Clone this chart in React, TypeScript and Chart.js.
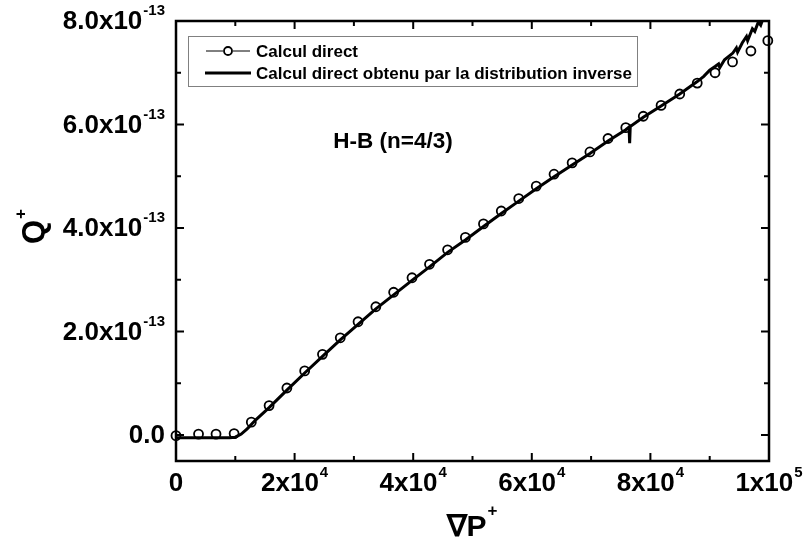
import React, { useEffect, useRef } from 'react';
import { Chart, registerables } from 'chart.js';

Chart.register(...registerables);

// ---- data (Q+ values in units of 1e-13) ----
const circleX = [0, 3800, 6750, 9800, 12700, 15700, 18700, 21700, 24700, 27700, 30700, 33700, 36700, 39800, 42750, 45800, 48800, 51850, 54850, 57800, 60750, 63750, 66800, 69800, 72850, 75850, 78800, 81800, 84950, 87900, 90900, 93850, 96950, 99800];
const circleY = [-0.01, 0.02, 0.02, 0.03, 0.25, 0.57, 0.91, 1.24, 1.56, 1.88, 2.19, 2.48, 2.76, 3.04, 3.30, 3.58, 3.82, 4.08, 4.33, 4.57, 4.81, 5.04, 5.26, 5.47, 5.73, 5.94, 6.16, 6.37, 6.59, 6.80, 7.00, 7.21, 7.42, 7.62];

const lineX = [0, 3000, 6000, 9000, 10000, 11000, 12000, 13500, 15700, 18700, 21700, 24700, 27700, 30700, 33700, 36700, 39800, 42750, 45800, 48800, 51850, 54850, 57800, 60750, 63750, 66800, 69800, 72850, 75850, 76400, 76500, 76600, 78800, 81800, 84950, 87900, 89000, 90000, 90900, 91500, 91700, 92500, 93900, 94500, 94700, 95500, 96200, 96400, 97200, 97600, 98200, 98600, 99000, 99500];
const lineY = [-0.05, -0.05, -0.05, -0.05, -0.04, 0.02, 0.12, 0.30, 0.53, 0.87, 1.20, 1.52, 1.84, 2.14, 2.44, 2.71, 2.99, 3.25, 3.53, 3.77, 4.03, 4.28, 4.52, 4.76, 4.99, 5.22, 5.44, 5.68, 5.90, 5.95, 5.64, 5.96, 6.14, 6.36, 6.59, 6.83, 6.93, 7.05, 7.12, 7.17, 7.10, 7.25, 7.38, 7.48, 7.40, 7.58, 7.70, 7.62, 7.85, 7.80, 7.98, 7.92, 8.05, 8.10];

const seriesLabels = ['Calcul direct', 'Calcul direct obtenu par la distribution inverse'];
const annotationText = 'H-B (n=4/3)';

const xMajorTicks = [0, 20000, 40000, 60000, 80000, 100000];
const xMinorTicks = [10000, 30000, 50000, 70000, 90000];
const xTickMain = ['0', '2x10', '4x10', '6x10', '8x10', '1x10'];
const xTickSup = ['', '4', '4', '4', '4', '5'];

const yMajorTicks = [0, 2, 4, 6, 8];
const yMinorTicks = [1, 3, 5, 7];
const yTickMain = ['0.0', '2.0x10', '4.0x10', '6.0x10', '8.0x10'];
const yTickSup = ['', '-13', '-13', '-13', '-13'];

const xTitleMain = '\u2207P';
const xTitleSup = '+';
const yTitleMain = 'Q';
const yTitleSup = '+';

const FONT = '"Liberation Sans", Arial, Helvetica, sans-serif';

function drawSup(ctx: CanvasRenderingContext2D, main: string, sup: string, x: number, baseline: number, align: 'left' | 'right' | 'center', mainFont: string, supFont: string, rise: number) {
  ctx.font = mainFont;
  const wm = ctx.measureText(main).width;
  ctx.font = supFont;
  const ws = sup ? ctx.measureText(sup).width + 1 : 0;
  const total = wm + ws;
  let left = x;
  if (align === 'right') left = x - total;
  else if (align === 'center') left = x - total / 2;
  ctx.textAlign = 'left';
  ctx.textBaseline = 'alphabetic';
  ctx.font = mainFont;
  ctx.fillText(main, left, baseline);
  if (sup) {
    ctx.font = supFont;
    ctx.fillText(sup, left + wm + 1, baseline - rise);
  }
}

const decorPlugin = {
  id: 'decor',
  afterDatasetsDraw(chart: any) {
    const ctx: CanvasRenderingContext2D = chart.ctx;
    const xs = chart.scales.x;
    const ys = chart.scales.y;
    const { left, right, top, bottom } = chart.chartArea;
    ctx.save();
    ctx.fillStyle = '#000';
    ctx.strokeStyle = '#000';

    // frame
    ctx.lineWidth = 2.5;
    ctx.strokeRect(left, top, right - left, bottom - top);

    // ticks (inward, mirrored)
    ctx.lineWidth = 2;
    ctx.beginPath();
    xMajorTicks.forEach(v => {
      const px = xs.getPixelForValue(v);
      ctx.moveTo(px, bottom); ctx.lineTo(px, bottom - 8);
      ctx.moveTo(px, top); ctx.lineTo(px, top + 8);
    });
    xMinorTicks.forEach(v => {
      const px = xs.getPixelForValue(v);
      ctx.moveTo(px, bottom); ctx.lineTo(px, bottom - 5);
      ctx.moveTo(px, top); ctx.lineTo(px, top + 5);
    });
    yMajorTicks.forEach(v => {
      const py = ys.getPixelForValue(v);
      ctx.moveTo(left, py); ctx.lineTo(left + 8, py);
      ctx.moveTo(right, py); ctx.lineTo(right - 8, py);
    });
    yMinorTicks.forEach(v => {
      const py = ys.getPixelForValue(v);
      ctx.moveTo(left, py); ctx.lineTo(left + 5, py);
      ctx.moveTo(right, py); ctx.lineTo(right - 5, py);
    });
    ctx.stroke();

    // tick labels
    const tickFont = `bold 26px ${FONT}`;
    const tickSupFont = `bold 15px ${FONT}`;
    yMajorTicks.forEach((v, i) => {
      const py = ys.getPixelForValue(v);
      drawSup(ctx, yTickMain[i], yTickSup[i], left - 11, py + 8, 'right', tickFont, tickSupFont, 14);
    });
    xMajorTicks.forEach((v, i) => {
      const px = xs.getPixelForValue(v);
      drawSup(ctx, xTickMain[i], xTickSup[i], px, bottom + 30, 'center', tickFont, tickSupFont, 14);
    });

    // x title
    drawSup(ctx, xTitleMain, xTitleSup, 472, 536, 'center', `bold 30px ${FONT}`, `bold 17px ${FONT}`, 20);

    // y title (rotated)
    ctx.save();
    ctx.translate(44, 244);
    ctx.rotate(-Math.PI / 2);
    drawSup(ctx, yTitleMain, yTitleSup, 0, 0, 'left', `bold 31px ${FONT}`, `bold 17px ${FONT}`, 18);
    ctx.restore();

    // annotation
    ctx.font = `bold 22.5px ${FONT}`;
    ctx.textAlign = 'center';
    ctx.textBaseline = 'middle';
    ctx.fillText(annotationText, 393, 142);

    // legend
    ctx.lineWidth = 1;
    ctx.strokeStyle = '#808080';
    ctx.strokeRect(188.5, 36.5, 449, 50);
    ctx.strokeStyle = '#000';
    const ly1 = 51, ly2 = 73;
    ctx.lineWidth = 1;
    ctx.beginPath();
    ctx.moveTo(206, ly1); ctx.lineTo(223, ly1);
    ctx.moveTo(233, ly1); ctx.lineTo(250, ly1);
    ctx.stroke();
    ctx.lineWidth = 1.8;
    ctx.beginPath();
    ctx.arc(228, ly1, 4, 0, Math.PI * 2);
    ctx.stroke();
    ctx.lineWidth = 3;
    ctx.beginPath();
    ctx.moveTo(205, ly2); ctx.lineTo(251, ly2);
    ctx.stroke();
    ctx.font = `bold 17px ${FONT}`;
    ctx.textAlign = 'left';
    ctx.textBaseline = 'middle';
    ctx.fillText(chart.data.datasets[0].label, 256, ly1 + 1);
    ctx.fillText(chart.data.datasets[1].label, 256, ly2 + 1);

    ctx.restore();
  },
};

export default function App() {
  const ref = useRef<HTMLCanvasElement | null>(null);
  useEffect(() => {
    if (!ref.current) return;
    const chart = new Chart(ref.current, {
      type: 'scatter',
      data: {
        datasets: [
          {
            label: seriesLabels[0],
            data: circleX.map((x, i) => ({ x, y: circleY[i] })),
            showLine: false,
            pointStyle: 'circle',
            pointRadius: 4.5,
            pointBorderWidth: 1.8,
            pointBorderColor: '#000',
            pointBackgroundColor: 'rgba(0,0,0,0)',
            clip: false,
            order: 1,
          } as any,
          {
            label: seriesLabels[1],
            data: lineX.map((x, i) => ({ x, y: lineY[i] })),
            showLine: true,
            pointRadius: 0,
            borderColor: '#000',
            borderWidth: 3,
            tension: 0,
            order: 2,
          } as any,
        ],
      },
      options: {
        animation: false,
        responsive: false,
        maintainAspectRatio: false,
        layout: { padding: { left: 176, right: 36, top: 21, bottom: 82 } },
        plugins: { legend: { display: false }, tooltip: { enabled: false } },
        scales: {
          x: { type: 'linear', min: 0, max: 100000, display: false },
          y: { type: 'linear', min: -0.5, max: 8, display: false },
        },
      },
      plugins: [decorPlugin],
    });
    return () => chart.destroy();
  }, []);
  return (
    <div style={{ position: 'absolute', left: 0, top: 0, width: 805, height: 543, background: '#fff' }}>
      <canvas ref={ref} width={805} height={543} style={{ width: 805, height: 543 }} />
    </div>
  );
}
